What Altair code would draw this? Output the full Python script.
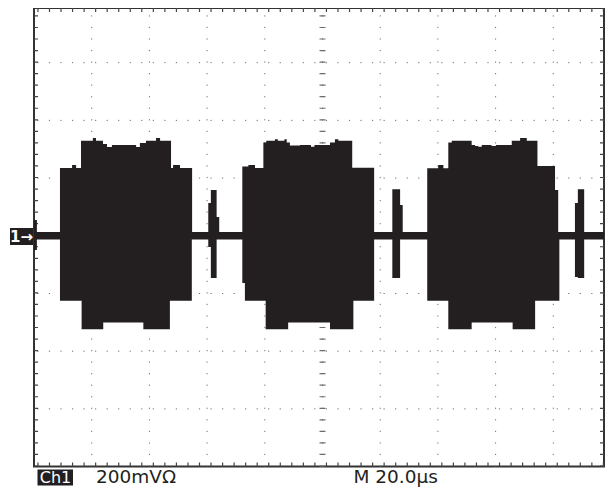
import altair as alt
import pandas as pd

# Oscilloscope capture: time in microseconds (M 20.0 us/div), amplitude in mV (200 mV/div).
# The visible window is trimmed a hair at the top/right edges so the page never overflows.
X_DOMAIN = [0, 197.57]
Y_DOMAIN = [-800, 789.5]
X_GRID = [20, 40, 60, 80, 100, 120, 140, 160, 180]
Y_GRID = [-600, -400, -200, 0, 200, 400, 600]
X_EDGES = [0, 197.57]
Y_EDGES = [-800, 789.5]
X_CENTER = [100]
Y_CENTER = [0]

# Upper envelope of the trace (step-after breakpoints)
TOP_T = [0, 1.0, 9.0, 13.2, 14.6, 16.3, 20.4, 21.5, 23.9, 25.3, 27.0, 35.4, 36.7, 38.8,
         42.3, 43.7, 47.5, 48.2, 50.6, 54.8,
         60.4, 61.3, 63.3, 64.2,
         72.2, 74.3, 76.6, 79.5, 80.5, 83.5, 84.5, 86.8, 87.6, 88.7, 92.2, 96.0, 97.2,
         102.6, 104.3, 105.5, 110.3, 117.9,
         124.2, 126.9, 127.8,
         136.3, 140.1, 141.9, 143.6, 144.8, 151.7, 152.9, 154.0, 155.2, 158.6, 160.1,
         165.6, 168.5, 170.8, 174.5, 180.6, 181.7,
         187.5, 188.5, 190.7, 199.0]
TOP_MV = [55, 13, 235, 245, 235, 329, 339, 329, 318, 308, 315, 308, 322, 329,
          339, 329, 235, 245, 235, 13,
          114, 159, 65, 13,
          240, 245, 235, 323, 329, 335, 329, 335, 323, 313, 315, 309, 315,
          323, 335, 329, 236, 13,
          161, 107, 13,
          234, 245, 234, 323, 329, 315, 311, 309, 315, 311, 315,
          329, 339, 329, 242, 159, 13,
          114, 161, 13, 13]

# Lower envelope of the trace (step-after breakpoints)
BOT_T = [0, 1.0, 9.0, 16.5, 24.0, 37.9, 47.1, 54.7,
         60.4, 61.3, 63.3,
         72.2, 73.1, 80.3, 88.1, 102.6, 110.7, 117.9,
         124.2, 126.9,
         136.3, 143.6, 151.7, 165.9, 173.7, 182.1,
         187.5, 188.5, 190.7, 199.0]
BOT_MV = [-49, -13, -225, -324, -301, -324, -225, -13,
          -39, -146, -13,
          -164, -225, -324, -301, -324, -225, -13,
          -146, -13,
          -225, -324, -301, -324, -225, -13,
          -143, -146, -13, -13]

LABELS = ["Ch1", "200mV\u03a9", "M 20.0\u00b5s", "1\u2192"]

INK = "#231f20"
GRID = "#6e6e6e"
FONT = "DejaVu Sans"

x_scale = alt.Scale(domain=X_DOMAIN, nice=False, zero=False)
y_scale = alt.Scale(domain=Y_DOMAIN, nice=False, zero=False)
X = alt.X("t:Q", scale=x_scale, axis=None)
Y = alt.Y("v:Q", scale=y_scale, axis=None)
YLO = alt.Y("lo:Q", scale=y_scale, axis=None)

dash = [1.2, 10.34]


def vrules(xs, width, color, clip=False):
    df = pd.DataFrame({"t": xs, "lo": Y_DOMAIN[0], "hi": Y_DOMAIN[1]})
    return alt.Chart(df).mark_rule(
        color=color, strokeWidth=width, strokeDash=dash, clip=clip).encode(
        x=X, y=YLO, y2="hi:Q")


def hrules(vs, width, color, clip=False):
    return alt.Chart(pd.DataFrame({"v": vs})).mark_rule(
        color=color, strokeWidth=width, strokeDash=dash, clip=clip).encode(y=Y)


grid_x = vrules(X_GRID, 1, GRID)
grid_y = hrules(Y_GRID, 1, GRID)
center_x = vrules(X_CENTER, 6, GRID)
center_y = hrules(Y_CENTER, 6, GRID)
edge_x = vrules(X_EDGES, 8, "#444", clip=True)
edge_y = hrules(Y_EDGES, 8, "#444", clip=True)

upper = alt.Chart(pd.DataFrame({"t": TOP_T, "v": TOP_MV})).mark_area(
    interpolate="step-after", color=INK, opacity=1, clip=True).encode(
    x=X, y=Y, y2=alt.datum(-10))
lower = alt.Chart(pd.DataFrame({"t": BOT_T, "v": BOT_MV})).mark_area(
    interpolate="step-after", color=INK, opacity=1, clip=True).encode(
    x=X, y=Y, y2=alt.datum(10))

one = pd.DataFrame({"k": [0]})
ch1_box = alt.Chart(one).mark_rect(color=INK).encode(
    x=alt.value(3.5), x2=alt.value(39), y=alt.value(461.5), y2=alt.value(477.5))
ch1_text = alt.Chart(one).mark_text(
    font=FONT, fontSize=16, color="white", align="center", baseline="alphabetic").encode(
    x=alt.value(21.5), y=alt.value(475), text=alt.value(LABELS[0]))
volts_text = alt.Chart(one).mark_text(
    font=FONT, fontSize=18.5, color=INK, align="left", baseline="alphabetic").encode(
    x=alt.value(62), y=alt.value(475), text=alt.value(LABELS[1]))
time_text = alt.Chart(one).mark_text(
    font=FONT, fontSize=18.5, color=INK, align="left", baseline="alphabetic").encode(
    x=alt.value(319.5), y=alt.value(475), text=alt.value(LABELS[2]))
mark_box = alt.Chart(one).mark_rect(color=INK).encode(
    x=alt.value(-24), x2=alt.value(-1), y=alt.value(220), y2=alt.value(237))
mark_text = alt.Chart(one).mark_text(
    font=FONT, fontSize=15, fontWeight="bold", color="white", align="center",
    baseline="middle").encode(
    x=alt.value(-12.5), y=alt.value(229), text=alt.value(LABELS[3]))

chart = alt.layer(
    grid_x, grid_y, center_x, center_y, edge_x, edge_y,
    upper, lower,
    ch1_box, ch1_text, volts_text, time_text, mark_box, mark_text,
).properties(
    width=570, height=458.6,
    padding={"left": 26, "top": 0, "right": 1, "bottom": 20},
    autosize=alt.AutoSizeParams(type="none"),
    background="white",
).configure_view(stroke="#333", strokeWidth=2)

chart.save("out.html", embed_options={"renderer": "svg", "actions": False})
